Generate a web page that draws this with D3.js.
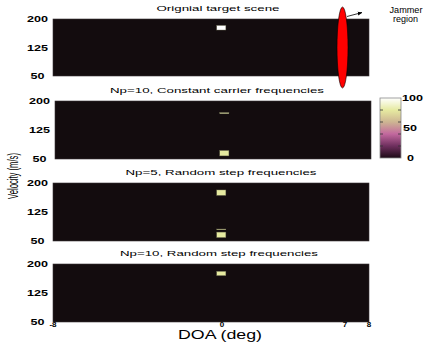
<!DOCTYPE html>
<html>
<head>
<meta charset="utf-8">
<script src="https://cdn.jsdelivr.net/npm/d3@7"></script>
<style>
  body { margin: 0; background: #fff; }
  text { font-family: "Liberation Sans", Arial, sans-serif; fill: #000; }
</style>
</head>
<body>
<div id="chart"></div>
<script>
var svgWidth = 443;
var svgHeight = 346;

// data
var titles = [
  "Orignial target scene",
  "Np=10, Constant carrier frequencies",
  "Np=5, Random step frequencies",
  "Np=10, Random step frequencies"
];
var velTicks = [50, 125, 200];
var doaTicks = [-8, 0, 7, 8];
var cbTicks = [0, 50, 100];
var cbMinor = [0, 20, 40, 60, 80, 100];

// detected cells per panel: [doaFrom, doaTo, velFrom, velTo, level]
var scene1 = [[-0.25, 0.22, 171, 183, 100]];
var scene2 = [[-0.2, 0.28, 167, 170, 82], [-0.2, 0.28, 58, 72, 80]];
var scene3 = [[-0.25, 0.22, 168, 182, 80], [-0.25, 0.22, 79, 81, 78], [-0.25, 0.22, 59, 73, 80]];
var scene4 = [[-0.25, 0.22, 170, 181, 80]];
var scenes = [scene1, scene2, scene3, scene4];

// layout
var panels = [
  { x: 53, y: 19, h: 57 },
  { x: 55, y: 101, h: 58 },
  { x: 53, y: 183, h: 58 },
  { x: 53, y: 264, h: 58 }
];
var panelW = 316;
var titleLen = [123, 214, 191, 198];
var titleX = [218, 217, 221, 219];

var svg = d3.select("#chart")
  .append("svg")
  .attr("width", svgWidth)
  .attr("height", svgHeight);

var color = d3.scaleLinear()
  .domain([0, 20, 40, 60, 80, 100])
  .range(["#1c0a16", "#6e2f5e", "#c2689e", "#cdb592", "#e6eaa0", "#ffffff"]);

panels.forEach(function(p, i) {
  var g = svg.append("g").attr("transform", `translate(${p.x}, ${p.y})`);

  var xScale = d3.scaleLinear()
    .domain([-8, 0, 7, 8])
    .range([0, 169, 292, panelW]);
  var yScale = d3.scaleLinear()
    .domain([50, 200])
    .range([p.h, 0]);

  g.append("rect")
    .attr("width", panelW)
    .attr("height", p.h)
    .attr("fill", "#130c0e")
    .attr("stroke", "#3a3436")
    .attr("stroke-width", 0.6);

  g.selectAll("rect.cell")
    .data(scenes[i])
    .enter()
    .append("rect")
    .classed("cell", true)
    .attr("x", d => xScale(d[0]))
    .attr("width", d => xScale(d[1]) - xScale(d[0]))
    .attr("y", d => yScale(d[3]))
    .attr("height", d => yScale(d[2]) - yScale(d[3]))
    .attr("fill", d => color(d[4]))
    .attr("stroke", "#6a6a50")
    .attr("stroke-width", 0.4);

  // y tick labels (centered, stretched look)
  g.selectAll("text.ytick")
    .data(velTicks)
    .enter()
    .append("text")
    .classed("ytick", true)
    .attr("x", -15.5)
    .attr("y", d => yScale(d) + 3)
    .attr("text-anchor", "middle")
    .attr("font-size", "8.5px")
    .attr("font-weight", "bold")
    .attr("textLength", d => String(d).length * 7)
    .attr("lengthAdjust", "spacingAndGlyphs")
    .text(d => d);

  g.append("text")
    .attr("x", titleX[i] - p.x)
    .attr("y", -8)
    .attr("text-anchor", "middle")
    .attr("font-size", "8px")
    .attr("textLength", titleLen[i])
    .attr("lengthAdjust", "spacingAndGlyphs")
    .text(titles[i]);

  if (i === 3) {
    g.selectAll("text.xtick")
      .data(doaTicks)
      .enter()
      .append("text")
      .classed("xtick", true)
      .attr("x", d => xScale(d))
      .attr("y", p.h + 5)
      .attr("text-anchor", "middle")
      .attr("font-size", "8px")
      .attr("font-weight", "bold")
      .text(d => d);
  }
});

// axis labels
svg.append("text")
  .attr("x", 220)
  .attr("y", 339)
  .attr("text-anchor", "middle")
  .attr("font-size", "12.5px")
  .attr("textLength", 84)
  .attr("lengthAdjust", "spacingAndGlyphs")
  .text("DOA (deg)");

svg.append("text")
  .attr("transform", "translate(18, 176) rotate(-90)")
  .attr("text-anchor", "middle")
  .attr("font-size", "14px")
  .attr("textLength", 46)
  .attr("lengthAdjust", "spacingAndGlyphs")
  .text("Velocity (m/s)");

// colorbar
var cbX = 380, cbY = 98, cbW = 21, cbH = 60;
var cbScale = d3.scaleLinear().domain([0, 100]).range([cbY + cbH, cbY]);

var grad = svg.append("defs").append("linearGradient")
  .attr("id", "cbgrad")
  .attr("x1", 0).attr("y1", 1).attr("x2", 0).attr("y2", 0);
grad.selectAll("stop")
  .data(d3.range(0, 101, 5))
  .enter()
  .append("stop")
  .attr("offset", d => d + "%")
  .attr("stop-color", d => color(d));

svg.append("rect")
  .attr("x", cbX).attr("y", cbY)
  .attr("width", cbW).attr("height", cbH)
  .attr("fill", "url(#cbgrad)")
  .attr("stroke", "#8a8a8a")
  .attr("stroke-width", 0.8);

svg.selectAll("line.cbl")
  .data(cbMinor.slice(1, -1))
  .enter()
  .append("line")
  .classed("cbl", true)
  .attr("x1", cbX).attr("x2", cbX + 3)
  .attr("y1", d => cbScale(d)).attr("y2", d => cbScale(d))
  .attr("stroke", "#333").attr("stroke-width", 0.8);

svg.selectAll("line.cbr")
  .data(cbMinor.slice(1, -1))
  .enter()
  .append("line")
  .classed("cbr", true)
  .attr("x1", cbX + cbW - 3).attr("x2", cbX + cbW)
  .attr("y1", d => cbScale(d)).attr("y2", d => cbScale(d))
  .attr("stroke", "#333").attr("stroke-width", 0.8);

svg.selectAll("text.cbt")
  .data(cbTicks)
  .enter()
  .append("text")
  .classed("cbt", true)
  .attr("x", d => d === 0 ? 407 : (d === 50 ? 403 : 402))
  .attr("y", d => cbScale(d) + 3)
  .attr("font-size", "8.5px")
  .attr("font-weight", "bold")
  .attr("textLength", d => String(d).length * 7)
  .attr("lengthAdjust", "spacingAndGlyphs")
  .text(d => d);

// jammer annotation
svg.append("defs").append("marker")
  .attr("id", "arrow")
  .attr("viewBox", "0 0 10 10")
  .attr("refX", 9).attr("refY", 5)
  .attr("markerWidth", 6).attr("markerHeight", 6)
  .attr("orient", "auto")
  .append("path")
  .attr("d", "M0,1 L10,5 L0,9 Z")
  .attr("fill", "#000");

svg.append("line")
  .attr("x1", 347).attr("y1", 16.5)
  .attr("x2", 362).attr("y2", 12.5)
  .attr("stroke", "#000")
  .attr("stroke-width", 0.8)
  .attr("marker-end", "url(#arrow)");

svg.append("ellipse")
  .attr("cx", 342.5).attr("cy", 47.5)
  .attr("rx", 5.5).attr("ry", 40.5)
  .attr("fill", "#ff0000")
  .attr("stroke", "#000")
  .attr("stroke-width", 0.6);

svg.append("text")
  .attr("x", 406).attr("y", 13)
  .attr("text-anchor", "middle")
  .attr("font-size", "9px")
  .attr("textLength", 33)
  .attr("lengthAdjust", "spacingAndGlyphs")
  .text("Jammer");

svg.append("text")
  .attr("x", 405.5).attr("y", 22)
  .attr("text-anchor", "middle")
  .attr("font-size", "9px")
  .attr("textLength", 25)
  .attr("lengthAdjust", "spacingAndGlyphs")
  .text("region");
</script>
</body>
</html>
